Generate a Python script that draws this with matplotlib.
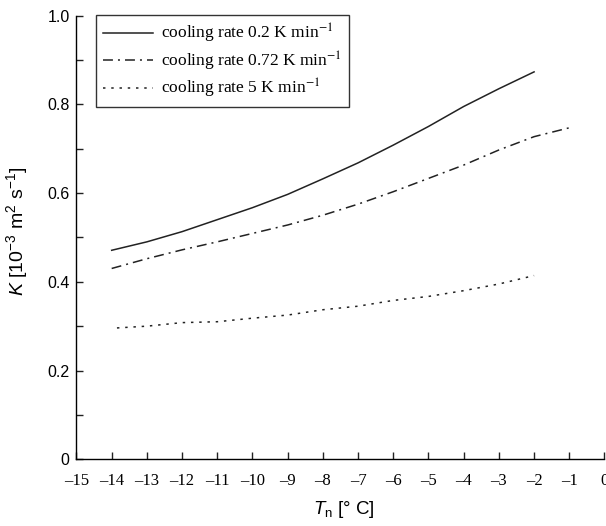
import matplotlib
matplotlib.use("Agg")
import matplotlib.pyplot as plt
from matplotlib.font_manager import FontProperties
from matplotlib.ticker import MultipleLocator, FixedLocator

plt.rcParams['mathtext.fontset'] = 'custom'
plt.rcParams['mathtext.rm'] = 'Liberation Sans'
plt.rcParams['mathtext.it'] = 'Liberation Sans:italic'

# thermal diffusivity K vs nucleation temperature, three cooling rates
t_slow = [-14, -13, -12, -11, -10, -9, -8, -7, -6, -5, -4, -3, -2]
k_slow = [0.471, 0.490, 0.513, 0.540, 0.567, 0.597, 0.632, 0.668, 0.708, 0.750, 0.795, 0.835, 0.873]

t_mid = [-14, -13, -12, -11, -10, -9, -8, -7, -6, -5, -4, -3, -2, -1]
k_mid = [0.430, 0.452, 0.472, 0.490, 0.509, 0.528, 0.550, 0.575, 0.603, 0.633, 0.663, 0.697, 0.727, 0.747]

t_fast = [-13.85, -13, -12, -11, -10, -9, -8, -7, -6, -5, -4, -3, -2]
k_fast = [0.296, 0.300, 0.308, 0.310, 0.318, 0.325, 0.337, 0.345, 0.358, 0.367, 0.380, 0.395, 0.414]

labels = [r'cooling rate 0.2 K min$^{-1}$',
          r'cooling rate 0.72 K min$^{-1}$',
          r'cooling rate 5 K min$^{-1}$']

fig = plt.figure(figsize=(6.06, 5.26), dpi=100)
ax = fig.add_axes([0.1262, 0.1268, 0.8713, 0.8437])

col = '#222222'
ax.plot(t_slow, k_slow, color=col, lw=1.1, ls='-', label=labels[0])
ax.plot(t_mid, k_mid, color=col, lw=1.1, ls=(0, (6.5, 3.3, 1.3, 3.3)), label=labels[1])
ax.plot(t_fast, k_fast, color=col, lw=1.1, ls=(0, (1.6, 3.8)), label=labels[2])

ax.set_xlim(-15, 0)
ax.set_ylim(0, 1.0)
for s in ['top', 'right']:
    ax.spines[s].set_visible(False)
for s in ['left', 'bottom']:
    ax.spines[s].set_linewidth(1.0)

xt = list(range(-15, 1))
ax.xaxis.set_major_locator(FixedLocator(xt))
ax.set_xticklabels([('\u2013%d' % -v) if v < 0 else '0' for v in xt],
                   fontfamily='Liberation Serif', fontsize=12)
yt = [0, 0.2, 0.4, 0.6, 0.8, 1.0]
ax.yaxis.set_major_locator(FixedLocator(yt))
ax.set_yticklabels(['0', '0.2', '0.4', '0.6', '0.8', '1.0'],
                   fontfamily='Liberation Sans', fontsize=11.5)
ax.yaxis.set_minor_locator(MultipleLocator(0.1))
ax.tick_params(axis='both', which='both', direction='in', length=5, width=1.0, color=col)
ax.tick_params(axis='x', pad=10)
ax.tick_params(axis='y', pad=5)

ax.set_xlabel(r'$T_{\rm n}$ [° C]', fontfamily='Liberation Sans', fontsize=13.5)
ax.xaxis.set_label_coords(0.506, -0.090)
ax.set_ylabel(r'$K$ [10$^{-3}$ m$^{2}$ s$^{-1}$]', fontfamily='Liberation Sans', fontsize=14)
ax.yaxis.set_label_coords(-0.088, 0.514)

leg = ax.legend(loc='upper left', bbox_to_anchor=(0.037, 1.001),
                prop=FontProperties(family='Liberation Serif', size=12.5, math_fontfamily='stix'),
                frameon=True, fancybox=False, handlelength=2.9, handletextpad=0.45,
                borderpad=0.4, labelspacing=0.25, borderaxespad=0)
leg.get_frame().set_edgecolor('black')
leg.get_frame().set_linewidth(1.0)

fig.savefig('out.png', dpi=100)
